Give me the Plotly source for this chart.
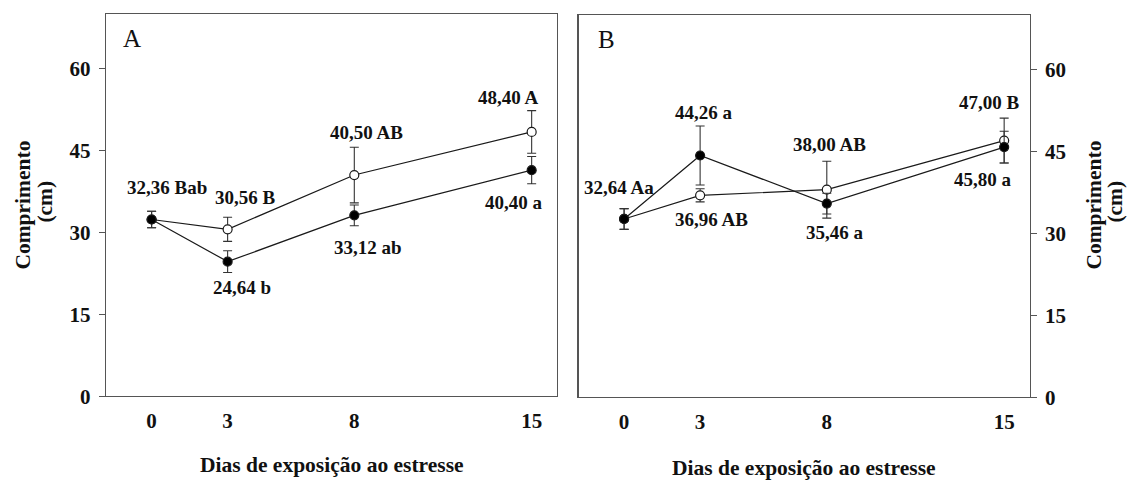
import plotly.graph_objects as go

# ---------------- data ----------------
days = [0, 3, 8, 15]
tick_vals_y = [0, 15, 30, 45, 60]

# Panel A
a_open = [32.36, 30.56, 40.50, 48.40]
a_open_err = [1.5, 2.2, 5.1, 3.9]
a_black = [32.36, 24.64, 33.12, 41.40]
a_black_err = [1.5, 2.0, 1.9, 2.5]
a_labels = ["32,36 Bab", "30,56 B", "24,64 b", "40,50 AB", "33,12 ab", "48,40 A", "40,40 a"]
a_label_day = [0, 3, 3, 8, 8, 15, 15]
a_label_val = [32.36, 30.56, 24.64, 40.50, 33.12, 48.40, 41.40]

# Panel B
b_open = [32.64, 36.96, 38.00, 47.00]
b_open_err = [1.9, 1.2, 5.2, 4.1]
b_black = [32.64, 44.26, 35.46, 45.80]
b_black_err = [1.9, 5.4, 1.9, 2.9]
b_labels = ["32,64 Aa", "44,26 a", "36,96 AB", "38,00 AB", "35,46 a", "47,00 B", "45,80 a"]
b_label_day = [0, 3, 3, 8, 8, 15, 15]
b_label_val = [32.64, 44.26, 36.96, 38.00, 35.46, 47.00, 45.80]

panel_letters = ["A", "B"]
x_title = "Dias de exposição ao estresse"
y_title_lines = ["Comprimento", "(cm)"]

# ---------------- style ----------------
W, H = 1131, 482
H_FIG = 493            # compensates the vertical squeeze observed in the capture
SY = H_FIG / H
FONT = "Liberation Serif"
LINE = "#1a1a1a"
FRAME = "#555555"

a_shift = [(15, 31), (18, 31), (14, -25), (12, 42), (14, -31), (-24, 34), (-18, -32)]
b_shift = [(-5, 31), (4, 42), (11, -24), (3, 44), (8, -28), (-15, 37), (-21, -32)]


def px(x):
    return x / W


def py(y):
    return 1 - y / H


fig = go.Figure()


def add_series(xa, ya, vals, errs, fill):
    fig.add_trace(go.Scatter(
        x=days, y=vals, xaxis=xa, yaxis=ya, mode="lines+markers",
        line=dict(color=LINE, width=1.2),
        marker=dict(size=9, color=fill, line=dict(color=LINE, width=1.2)),
        error_y=dict(type="data", array=errs, visible=True, color="#333333",
                     thickness=1.1, width=4.5),
        showlegend=False, hoverinfo="skip",
    ))


add_series("x", "y", a_open, a_open_err, "white")
add_series("x", "y", a_black, a_black_err, "black")
add_series("x2", "y2", b_open, b_open_err, "white")
add_series("x2", "y2", b_black, b_black_err, "black")

annotations = []
lab_font = dict(family=FONT, size=19, color="#111")
for xr, yr, labels, ds, vs, shifts in [("x", "y", a_labels, a_label_day, a_label_val, a_shift),
                                        ("x2", "y2", b_labels, b_label_day, b_label_val, b_shift)]:
    for txt, d, v, (dx, dy) in zip(labels, ds, vs, shifts):
        annotations.append(dict(x=d, y=v, xref=xr, yref=yr, text="<b>" + txt + "</b>", showarrow=False,
                                xshift=dx, yshift=dy * SY, font=lab_font,
                                xanchor="center", yanchor="middle"))

# panel letters
for letter, (lx, ly) in zip(panel_letters, [(132, 39), (606, 40)]):
    annotations.append(dict(x=px(lx), y=py(ly), xref="paper", yref="paper", text=letter,
                            showarrow=False, xanchor="center", yanchor="middle",
                            font=dict(family=FONT, size=25, color="#111")))

# axis titles
title_font = dict(family=FONT, size=21.5, color="#111")
for (tx, ty) in [(332, 466), (804, 469)]:
    annotations.append(dict(x=px(tx), y=py(ty), xref="paper", yref="paper", text="<b>" + x_title + "</b>",
                            showarrow=False, xanchor="center", yanchor="middle", font=title_font))
for xs in [(23, 45), (1094, 1115)]:
    for line_txt, tx, ty in zip(y_title_lines, xs, (206, 202)):
        annotations.append(dict(x=px(tx), y=py(ty), xref="paper", yref="paper",
                                text="<b>" + line_txt + "</b>", showarrow=False,
                                xanchor="center", yanchor="middle", textangle=-90, font=title_font))

tickfont = dict(family=FONT, size=21, color="#111")
xcommon = dict(range=[-1.8, 16], tickvals=days, ticktext=["<b>%d</b>" % d for d in days], ticks="",
               showline=True, mirror=True, linecolor=FRAME, linewidth=1.2, showgrid=False,
               zeroline=False, tickfont=tickfont, ticklabelstandoff=5)
ycommon = dict(range=[0, 70], tickvals=tick_vals_y, ticktext=["<b>%d</b>" % v for v in tick_vals_y],
               ticks="outside", ticklen=6, tickcolor=FRAME, showline=True, mirror=True,
               linecolor=FRAME, linewidth=1.2, showgrid=False, zeroline=False, tickfont=tickfont,
               ticklabelstandoff=4)

fig.update_layout(
    width=W, height=H_FIG, margin=dict(l=0, r=0, t=0, b=0),
    paper_bgcolor="white", plot_bgcolor="white",
    xaxis=dict(domain=[px(106), px(557)], anchor="y", **xcommon),
    yaxis=dict(domain=[py(397), py(14)], anchor="x", **ycommon),
    xaxis2=dict(domain=[px(578.5), px(1029.5)], anchor="y2", **xcommon),
    yaxis2=dict(domain=[py(398), py(15)], anchor="x2", side="right", **ycommon),
    annotations=annotations,
)

post = (
    "document.body.style.margin='0';"
    "document.body.style.padding='0';"
    "document.body.style.overflow='hidden';"
)
fig.write_html("out.html", config={"displayModeBar": False, "staticPlot": True}, post_script=post)
